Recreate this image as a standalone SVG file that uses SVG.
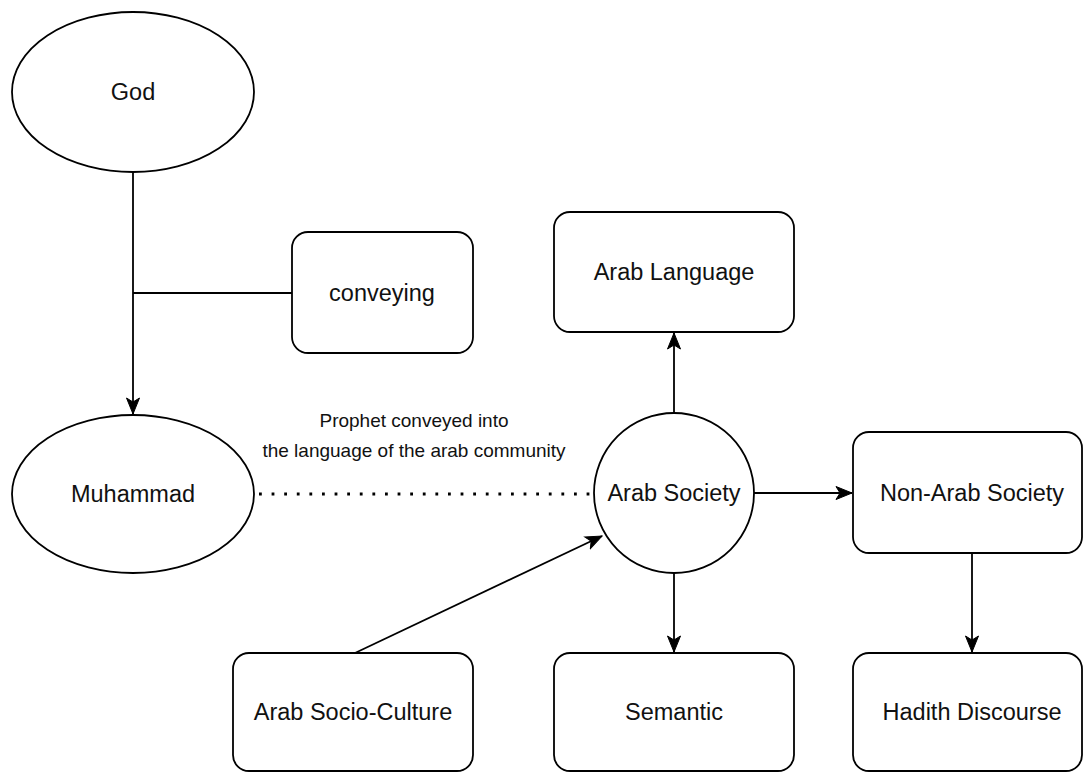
<svg xmlns="http://www.w3.org/2000/svg" width="1083" height="772" viewBox="0 0 1083 772">
<style>
.shape{fill:#ffffff;stroke:#000000;stroke-width:1.8}
.lbl{font-family:"Liberation Sans",Arial,sans-serif;font-size:23.5px;fill:#111111;text-anchor:middle}
.small{font-family:"Liberation Sans",Arial,sans-serif;font-size:19px;fill:#111111;text-anchor:middle}
.edge{fill:none;stroke:#000000;stroke-width:1.8}
.dot{fill:none;stroke:#000000;stroke-width:2.8;stroke-dasharray:2.8 9.8}
</style>
<defs>
<marker id="arr" markerUnits="userSpaceOnUse" markerWidth="18" markerHeight="16" viewBox="0 0 18 16" refX="17" refY="8" orient="auto">
<path d="M1,1.5 L17,8 L1,14.5 L5,8 Z" fill="#000000" stroke="#000000" stroke-width="1"/>
</marker>
</defs>
<rect x="0" y="0" width="1083" height="772" fill="#ffffff"/>
<g id="connectors">
<path class="edge" d="M133,172 L133,414" marker-end="url(#arr)"/>
<path class="edge" d="M133,293 L292,293"/>
<path class="dot" d="M259,494 L592,494"/>
<path class="edge" d="M674,413 L674,333" marker-end="url(#arr)"/>
<path class="edge" d="M754,493 L852,493" marker-end="url(#arr)"/>
<path class="edge" d="M674,573 L674,652" marker-end="url(#arr)"/>
<path class="edge" d="M355,653 L602,536" marker-end="url(#arr)"/>
<path class="edge" d="M972,553 L972,652" marker-end="url(#arr)"/>
<text class="small" x="414" y="427">Prophet conveyed into</text>
<text class="small" x="414" y="457">the language of the arab community</text>
</g>
<g id="god">
<ellipse class="shape" cx="133" cy="92" rx="121" ry="80"/>
<text class="lbl" x="133" y="100">God</text>
</g>
<g id="conveying">
<rect class="shape" x="292" y="232" width="181" height="121" rx="16" ry="16"/>
<text class="lbl" x="382" y="301">conveying</text>
</g>
<g id="muhammad">
<ellipse class="shape" cx="133" cy="494" rx="121" ry="79"/>
<text class="lbl" x="133" y="502">Muhammad</text>
</g>
<g id="arab-language">
<rect class="shape" x="554" y="212" width="240" height="120" rx="16" ry="16"/>
<text class="lbl" x="674" y="280">Arab Language</text>
</g>
<g id="arab-society">
<circle class="shape" cx="674" cy="493" r="80"/>
<text class="lbl" x="674" y="501">Arab Society</text>
</g>
<g id="non-arab-society">
<rect class="shape" x="853" y="432" width="229" height="121" rx="16" ry="16"/>
<text class="lbl" x="972" y="501">Non-Arab Society</text>
</g>
<g id="arab-socio-culture">
<rect class="shape" x="233" y="653" width="240" height="118" rx="16" ry="16"/>
<text class="lbl" x="353" y="720">Arab Socio-Culture</text>
</g>
<g id="semantic">
<rect class="shape" x="554" y="653" width="240" height="118" rx="16" ry="16"/>
<text class="lbl" x="674" y="720">Semantic</text>
</g>
<g id="hadith-discourse">
<rect class="shape" x="853" y="653" width="229" height="118" rx="16" ry="16"/>
<text class="lbl" x="972" y="720">Hadith Discourse</text>
</g>
</svg>
